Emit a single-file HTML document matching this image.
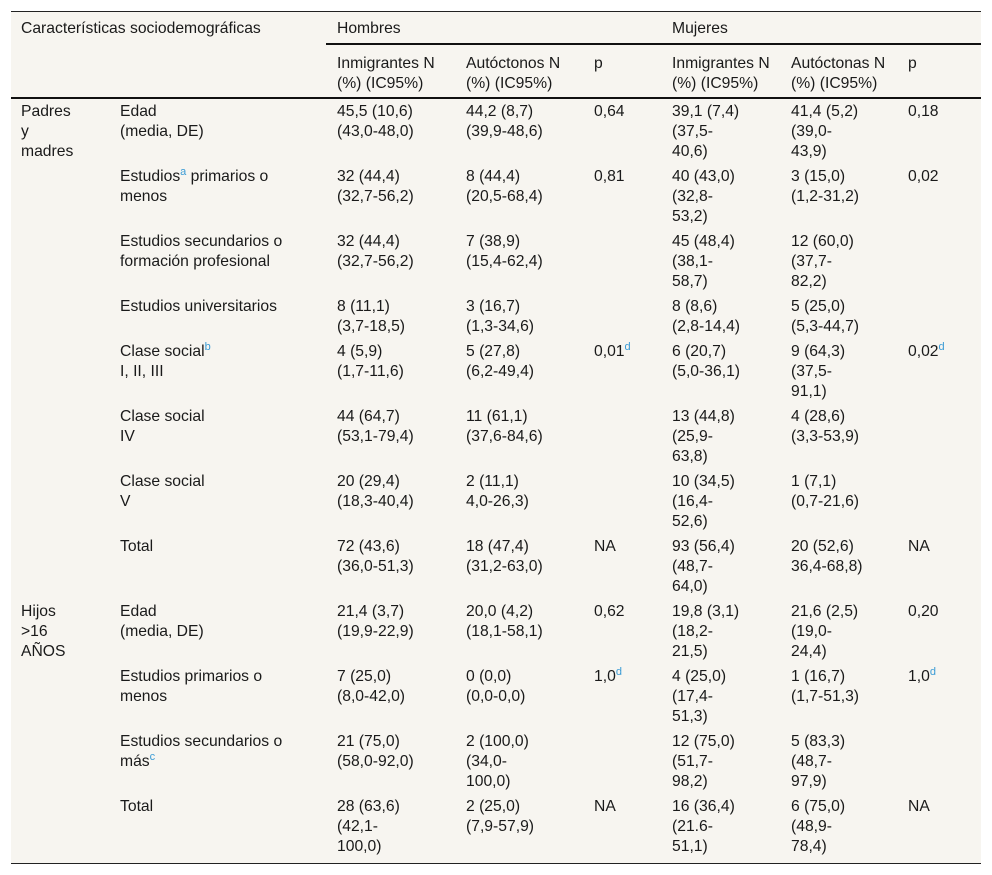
<!DOCTYPE html>
<html><head><meta charset="utf-8"><style>
body{margin:0;background:#fff;width:992px;height:875px;position:relative;font-family:"Liberation Sans",sans-serif;font-size:15.7px;color:#1a1a1a;}
#tbl{position:absolute;left:11px;top:11px;width:970px;height:851px;background:#f7f5f0;border-top:1px solid #222;border-bottom:1.5px solid #222;}
.c{position:absolute;line-height:20px;white-space:nowrap;margin-top:2px;}
.l{position:absolute;background:#111;}
sup{color:#3a9bd5;font-size:11px;vertical-align:6px;line-height:0;}
</style></head><body>
<div id="tbl"></div>
<div class="l" style="left:326px;top:43px;width:655px;height:2px"></div>
<div class="l" style="left:11px;top:97px;width:970px;height:2px"></div>
<div class="c" style="left:21px;top:17px">Características sociodemográficas</div>
<div class="c" style="left:337px;top:17px">Hombres</div>
<div class="c" style="left:672px;top:17px">Mujeres</div>
<div class="c" style="left:337px;top:52px">Inmigrantes N<br>(%) (IC95%)</div>
<div class="c" style="left:466px;top:52px">Autóctonos N<br>(%) (IC95%)</div>
<div class="c" style="left:594px;top:52px">p</div>
<div class="c" style="left:672px;top:52px">Inmigrantes N<br>(%) (IC95%)</div>
<div class="c" style="left:791px;top:52px">Autóctonas N<br>(%) (IC95%)</div>
<div class="c" style="left:908px;top:52px">p</div>

<div class="c" style="left:21px;top:100px">Padres<br>y<br>madres</div>
<div class="c" style="left:21px;top:600px">Hijos<br>&gt;16<br>AÑOS</div>

<div class="c" style="left:120px;top:100px">Edad<br>(media, DE)</div>
<div class="c" style="left:337px;top:100px">45,5 (10,6)<br>(43,0-48,0)</div>
<div class="c" style="left:466px;top:100px">44,2 (8,7)<br>(39,9-48,6)</div>
<div class="c" style="left:594px;top:100px">0,64</div>
<div class="c" style="left:672px;top:100px">39,1 (7,4)<br>(37,5-<br>40,6)</div>
<div class="c" style="left:791px;top:100px">41,4 (5,2)<br>(39,0-<br>43,9)</div>
<div class="c" style="left:908px;top:100px">0,18</div>

<div class="c" style="left:120px;top:165px">Estudios<sup>a</sup> primarios o<br>menos</div>
<div class="c" style="left:337px;top:165px">32 (44,4)<br>(32,7-56,2)</div>
<div class="c" style="left:466px;top:165px">8 (44,4)<br>(20,5-68,4)</div>
<div class="c" style="left:594px;top:165px">0,81</div>
<div class="c" style="left:672px;top:165px">40 (43,0)<br>(32,8-<br>53,2)</div>
<div class="c" style="left:791px;top:165px">3 (15,0)<br>(1,2-31,2)</div>
<div class="c" style="left:908px;top:165px">0,02</div>

<div class="c" style="left:120px;top:230px">Estudios secundarios o<br>formación profesional</div>
<div class="c" style="left:337px;top:230px">32 (44,4)<br>(32,7-56,2)</div>
<div class="c" style="left:466px;top:230px">7 (38,9)<br>(15,4-62,4)</div>
<div class="c" style="left:672px;top:230px">45 (48,4)<br>(38,1-<br>58,7)</div>
<div class="c" style="left:791px;top:230px">12 (60,0)<br>(37,7-<br>82,2)</div>

<div class="c" style="left:120px;top:295px">Estudios universitarios</div>
<div class="c" style="left:337px;top:295px">8 (11,1)<br>(3,7-18,5)</div>
<div class="c" style="left:466px;top:295px">3 (16,7)<br>(1,3-34,6)</div>
<div class="c" style="left:672px;top:295px">8 (8,6)<br>(2,8-14,4)</div>
<div class="c" style="left:791px;top:295px">5 (25,0)<br>(5,3-44,7)</div>

<div class="c" style="left:120px;top:340px">Clase social<sup>b</sup><br>I, II, III</div>
<div class="c" style="left:337px;top:340px">4 (5,9)<br>(1,7-11,6)</div>
<div class="c" style="left:466px;top:340px">5 (27,8)<br>(6,2-49,4)</div>
<div class="c" style="left:594px;top:340px">0,01<sup>d</sup></div>
<div class="c" style="left:672px;top:340px">6 (20,7)<br>(5,0-36,1)</div>
<div class="c" style="left:791px;top:340px">9 (64,3)<br>(37,5-<br>91,1)</div>
<div class="c" style="left:908px;top:340px">0,02<sup>d</sup></div>

<div class="c" style="left:120px;top:405px">Clase social<br>IV</div>
<div class="c" style="left:337px;top:405px">44 (64,7)<br>(53,1-79,4)</div>
<div class="c" style="left:466px;top:405px">11 (61,1)<br>(37,6-84,6)</div>
<div class="c" style="left:672px;top:405px">13 (44,8)<br>(25,9-<br>63,8)</div>
<div class="c" style="left:791px;top:405px">4 (28,6)<br>(3,3-53,9)</div>

<div class="c" style="left:120px;top:470px">Clase social<br>V</div>
<div class="c" style="left:337px;top:470px">20 (29,4)<br>(18,3-40,4)</div>
<div class="c" style="left:466px;top:470px">2 (11,1)<br>4,0-26,3)</div>
<div class="c" style="left:672px;top:470px">10 (34,5)<br>(16,4-<br>52,6)</div>
<div class="c" style="left:791px;top:470px">1 (7,1)<br>(0,7-21,6)</div>

<div class="c" style="left:120px;top:535px">Total</div>
<div class="c" style="left:337px;top:535px">72 (43,6)<br>(36,0-51,3)</div>
<div class="c" style="left:466px;top:535px">18 (47,4)<br>(31,2-63,0)</div>
<div class="c" style="left:594px;top:535px">NA</div>
<div class="c" style="left:672px;top:535px">93 (56,4)<br>(48,7-<br>64,0)</div>
<div class="c" style="left:791px;top:535px">20 (52,6)<br>36,4-68,8)</div>
<div class="c" style="left:908px;top:535px">NA</div>

<div class="c" style="left:120px;top:600px">Edad<br>(media, DE)</div>
<div class="c" style="left:337px;top:600px">21,4 (3,7)<br>(19,9-22,9)</div>
<div class="c" style="left:466px;top:600px">20,0 (4,2)<br>(18,1-58,1)</div>
<div class="c" style="left:594px;top:600px">0,62</div>
<div class="c" style="left:672px;top:600px">19,8 (3,1)<br>(18,2-<br>21,5)</div>
<div class="c" style="left:791px;top:600px">21,6 (2,5)<br>(19,0-<br>24,4)</div>
<div class="c" style="left:908px;top:600px">0,20</div>

<div class="c" style="left:120px;top:665px">Estudios primarios o<br>menos</div>
<div class="c" style="left:337px;top:665px">7 (25,0)<br>(8,0-42,0)</div>
<div class="c" style="left:466px;top:665px">0 (0,0)<br>(0,0-0,0)</div>
<div class="c" style="left:594px;top:665px">1,0<sup>d</sup></div>
<div class="c" style="left:672px;top:665px">4 (25,0)<br>(17,4-<br>51,3)</div>
<div class="c" style="left:791px;top:665px">1 (16,7)<br>(1,7-51,3)</div>
<div class="c" style="left:908px;top:665px">1,0<sup>d</sup></div>

<div class="c" style="left:120px;top:730px">Estudios secundarios o<br>más<sup>c</sup></div>
<div class="c" style="left:337px;top:730px">21 (75,0)<br>(58,0-92,0)</div>
<div class="c" style="left:466px;top:730px">2 (100,0)<br>(34,0-<br>100,0)</div>
<div class="c" style="left:672px;top:730px">12 (75,0)<br>(51,7-<br>98,2)</div>
<div class="c" style="left:791px;top:730px">5 (83,3)<br>(48,7-<br>97,9)</div>

<div class="c" style="left:120px;top:795px">Total</div>
<div class="c" style="left:337px;top:795px">28 (63,6)<br>(42,1-<br>100,0)</div>
<div class="c" style="left:466px;top:795px">2 (25,0)<br>(7,9-57,9)</div>
<div class="c" style="left:594px;top:795px">NA</div>
<div class="c" style="left:672px;top:795px">16 (36,4)<br>(21.6-<br>51,1)</div>
<div class="c" style="left:791px;top:795px">6 (75,0)<br>(48,9-<br>78,4)</div>
<div class="c" style="left:908px;top:795px">NA</div>
</body></html>
